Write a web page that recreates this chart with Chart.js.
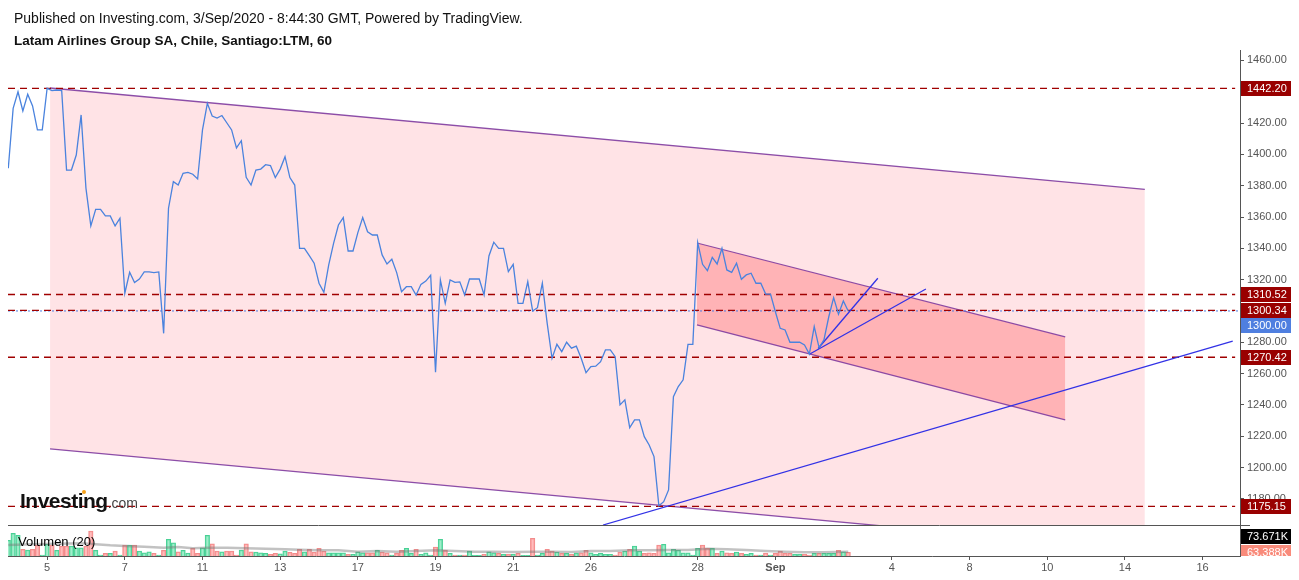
<!DOCTYPE html>
<html>
<head>
<meta charset="utf-8">
<script src="https://cdn.jsdelivr.net/npm/chart.js@4.4.0/dist/chart.umd.min.js"></script>
<style>
html, body { margin: 0; padding: 0; background: #fff; }
#wrap { position: relative; width: 1299px; height: 580px; overflow: hidden; font-family: "Liberation Sans", Arial, sans-serif; }
canvas { position: absolute; left: 0; }
#priceCanvas { top: 0; }
#volCanvas { top: 525px; }
.txt { position: absolute; white-space: nowrap; }
</style>
</head>
<body>
<div id="wrap">
  <canvas id="priceCanvas" width="1299" height="525"></canvas>
  <canvas id="volCanvas" width="1299" height="55"></canvas>
  <div class="txt" style="left:14px;top:11px;font-size:14px;line-height:14px;color:#111">Published on Investing.com, 3/Sep/2020 - 8:44:30 GMT, Powered by TradingView.</div>
  <div class="txt" style="left:14px;top:34px;font-size:13.5px;line-height:14px;font-weight:bold;color:#111">Latam Airlines Group SA, Chile, Santiago:LTM, 60</div>
  <div class="txt" style="left:20px;top:490px;line-height:21px;color:#111">
    <span style="font-size:21px;font-weight:bold;letter-spacing:-0.5px">Investing</span><span style="font-size:14px;color:#444">.com</span>
  </div>
  <div class="txt" style="left:82px;top:490px;width:4px;height:4px;border-radius:2px;background:#f7a21b"></div>
  <div class="txt" style="left:18px;top:535px;font-size:13px;line-height:13px;color:#000">Volumen (20)</div>
</div>
<script>
// hourly closes, one per bar
const closes = [
  1391.1, 1429.4, 1440.0, 1427.7, 1438.4, 1430.9, 1415.6, 1415.6, 1442.2, 1440.7,
  1441.1, 1440.7, 1390.0, 1390.0, 1399.6, 1425.2, 1378.3, 1354.3, 1364.9, 1364.9,
  1360.7, 1360.7, 1354.3, 1359.2, 1311.3, 1324.7, 1318.1, 1320.4, 1324.9, 1324.9,
  1324.5, 1324.9, 1285.7, 1365.6, 1382.6, 1380.4, 1387.9, 1388.5, 1387.3, 1384.3,
  1415.6, 1432.6, 1424.5, 1423.2, 1424.8, 1420.2, 1415.6, 1404.1, 1408.7, 1385.4,
  1380.4, 1390.0, 1390.6, 1393.4, 1392.9, 1385.2, 1390.6, 1398.5, 1385.2, 1380.4,
  1340.0, 1340.0, 1335.3, 1330.5, 1317.7, 1311.9, 1329.4, 1343.2, 1354.9, 1359.6,
  1338.3, 1338.3, 1350.0, 1359.6, 1350.6, 1348.5, 1348.5, 1335.8, 1330.0, 1333.0,
  1324.5, 1312.3, 1315.5, 1315.5, 1310.2, 1317.0, 1319.1, 1322.8, 1260.8, 1319.8,
  1304.9, 1319.8, 1318.3, 1318.6, 1310.2, 1320.4, 1320.4, 1320.4, 1310.2, 1335.1,
  1343.9, 1340.0, 1340.0, 1325.1, 1329.8, 1304.9, 1304.9, 1318.7, 1300.0, 1302.1,
  1317.7, 1292.1, 1269.8, 1278.7, 1274.0, 1280.0, 1276.2, 1277.5, 1269.8, 1260.6,
  1264.4, 1264.7, 1267.6, 1275.1, 1275.1, 1270.8, 1240.0, 1243.2, 1225.5, 1230.4,
  1230.4, 1219.7, 1214.4, 1207.0, 1175.6, 1178.2, 1185.7, 1245.3, 1251.7, 1256.0,
  1278.7, 1278.7, 1343.6, 1329.8, 1325.7, 1334.2, 1330.0, 1340.0, 1326.2, 1324.7,
  1330.5, 1320.2, 1323.0, 1324.1, 1317.7, 1317.7, 1310.8, 1310.8, 1299.5, 1288.9,
  1287.9, 1280.0, 1280.0, 1280.0, 1278.3, 1272.5, 1290.0, 1276.6, 1281.5, 1296.3,
  1308.5, 1297.9, 1306.4, 1300.0
];

// volume per bar, thousands
const volumes = [
  267, 386, 352, 114, 102, 114, 187, 17, 199, 187,
  97, 170, 170, 170, 141, 141, 170, 425, 97, 17,
  46, 46, 85, 17, 187, 187, 187, 85, 56, 73,
  46, 17, 97, 284, 226, 73, 97, 51, 131, 46,
  141, 352, 209, 85, 73, 85, 85, 17, 102, 209,
  73, 68, 56, 46, 29, 46, 39, 85, 63, 46,
  114, 73, 114, 68, 131, 85, 56, 56, 56, 56,
  29, 29, 73, 56, 56, 56, 97, 68, 56, 17,
  46, 97, 131, 46, 114, 29, 56, 17, 153, 284,
  97, 46, 17, 17, 17, 85, 12, 12, 29, 73,
  56, 46, 29, 29, 29, 46, 12, 12, 301, 17,
  46, 114, 85, 68, 46, 46, 29, 51, 56, 97,
  56, 29, 46, 29, 29, 17, 68, 85, 114, 170,
  85, 46, 56, 46, 187, 199, 56, 114, 102, 56,
  56, 17, 131, 187, 131, 131, 46, 85, 56, 46,
  68, 46, 29, 46, 17, 17, 51, 17, 46, 85,
  46, 46, 29, 29, 29, 17, 46, 46, 46, 46,
  46, 97, 73, 63.388
];

// volume 20-bar average, read at these bars
const maBars = [0, 5, 10, 15, 18, 21, 24, 28, 32, 35, 38, 41, 45, 49, 53, 57, 60, 64, 68, 72,
  76, 80, 84, 88, 92, 96, 100, 104, 108, 112, 116, 120, 124, 128, 132, 136, 140, 144, 148, 152,
  156, 160, 164, 168, 173];
const maValues = [187, 198, 210, 215, 199, 181, 170, 159, 142, 153, 130, 142, 142, 130, 125, 113, 108, 96, 96, 74,
  85, 74, 85, 96, 85, 74, 74, 68, 74, 74, 68, 85, 85, 96, 96, 102, 102, 125, 113, 102,
  85, 74, 62, 62, 73.671];

const levels = [1442.20, 1310.52, 1300.34, 1270.42, 1175.15];
const lastPrice = 1300.00;
const priceTicks = [1180, 1200, 1220, 1240, 1260, 1280, 1300, 1320, 1340, 1360, 1380, 1400, 1420, 1440, 1460];

const xTickBars = [8, 24, 40, 56, 72, 88, 104, 120, 142, 158, 182, 198, 214, 230, 246];
const xTickLabels = ['5', '7', '11', '13', '17', '19', '21', '26', '28', 'Sep', '4', '8', '10', '14', '16'];

// drawings: [bar, price]
const bigChannelTop = [[8.6, 1442.4], [234.1, 1377.7]];
const bigChannelBottom = [[8.6, 1211.9], [234.1, 1147.2]];
const smallChannelTop = [[141.85, 1343.4], [217.7, 1283.4]];
const smallChannelBottom = [[141.85, 1291.1], [217.7, 1230.4]];
const trendLines = [
  [[122.5, 1163.3], [252.2, 1280.8]],
  [[166.8, 1276.0], [179.1, 1320.9]],
  [[165.1, 1272.5], [189.0, 1314.0]]
];
const levelEndBar = 252.7;

const xMin = -0.06, xMax = 253.7;
const priceMin = 1163.3, priceMax = 1466.66;
const volMax = 527;

Chart.defaults.font.family = '"Liberation Sans", Arial, sans-serif';

const pts = arr => arr.map(p => ({x: p[0], y: p[1]}));
const AXIS = '#555';
const purple = 'rgba(128,60,160,0.9)';

const datasets = [
  {data: pts(bigChannelTop), borderColor: purple, borderWidth: 1.3, order: 20},
  {data: pts(bigChannelBottom), borderColor: purple, borderWidth: 1.3, order: 21,
    fill: '-1', backgroundColor: 'rgba(255,200,205,0.5)'},
  {data: pts(smallChannelTop), borderColor: purple, borderWidth: 1.2, order: 18},
  {data: pts(smallChannelBottom), borderColor: purple, borderWidth: 1.2, order: 19,
    fill: '-1', backgroundColor: 'rgba(255,120,125,0.45)'}
];
levels.forEach(v => datasets.push({
  data: [{x: xMin, y: v}, {x: levelEndBar, y: v}],
  borderColor: '#a00000', borderWidth: 1.3, borderDash: [7, 5], order: 10
}));
trendLines.forEach(l => datasets.push({
  data: pts(l), borderColor: '#3232e6', borderWidth: 1.3, order: 5
}));
// last price line sits under the dashed levels
datasets.push({
  data: [{x: xMin, y: lastPrice}, {x: xMax, y: lastPrice}],
  borderColor: '#4a7be0', borderWidth: 1, borderDash: [2, 2], order: 12
});
datasets.push({
  data: closes.map((c, i) => ({x: i, y: c})),
  borderColor: '#4a83de', borderWidth: 1.3, order: 1
});
datasets.forEach(d => { d.pointRadius = 0; d.tension = 0; d.clip = 0; if (!d.fill) d.fill = false; });

function drawTag(ctx, x, y, text, bg) {
  ctx.fillStyle = bg;
  ctx.fillRect(x, Math.round(y - 7.5), 50, 15);
  ctx.fillStyle = '#fff';
  ctx.font = '11px "Liberation Sans", Arial, sans-serif';
  ctx.textBaseline = 'middle';
  ctx.textAlign = 'left';
  ctx.fillText(text, x + 6, y + 0.5);
}

const priceTags = {
  id: 'priceTags',
  afterDraw(chart) {
    const ctx = chart.ctx, ys = chart.scales.y;
    const tags = levels.map(v => ({v, bg: '#990000'}));
    tags.push({v: lastPrice, bg: '#4f7fe0'});
    tags.forEach(t => t.y = ys.getPixelForValue(t.v));
    tags.sort((a, b) => a.y - b.y);
    for (let k = 1; k < tags.length; k++) {
      if (tags[k].y < tags[k - 1].y + 15.5) tags[k].y = tags[k - 1].y + 15.5;
    }
    ctx.save();
    tags.forEach(t => drawTag(ctx, ys.left + 1, t.y, t.v.toFixed(2), t.bg));
    ctx.restore();
  }
};

new Chart(document.getElementById('priceCanvas'), {
  type: 'line',
  data: {datasets},
  options: {
    responsive: false,
    animation: false,
    events: [],
    layout: {padding: {left: 8, top: 50, right: 0, bottom: 0}},
    plugins: {legend: {display: false}, tooltip: {enabled: false}},
    scales: {
      x: {type: 'linear', min: xMin, max: xMax, display: false},
      y: {
        position: 'right', min: priceMin, max: priceMax,
        afterFit: s => { s.width = 59; s.paddingTop = 0; s.paddingBottom = 0; },
        afterBuildTicks: s => { s.ticks = priceTicks.map(v => ({value: v})); },
        ticks: {callback: v => v.toFixed(2), color: AXIS, font: {size: 11}, padding: 3},
        grid: {drawOnChartArea: false, tickLength: 4, color: AXIS},
        border: {color: AXIS}
      }
    }
  },
  plugins: [priceTags]
});

const upColor = i => closes[i] >= closes[Math.max(i - 1, 0)];

const volTags = {
  id: 'volTags',
  afterDraw(chart) {
    const ctx = chart.ctx, ys = chart.scales.yv;
    ctx.save();
    ctx.strokeStyle = AXIS;
    ctx.lineWidth = 1;
    ctx.beginPath();
    ctx.moveTo(chart.chartArea.left, ys.top + 0.5);
    ctx.lineTo(ys.left + 10, ys.top + 0.5);
    ctx.stroke();
    const tags = [
      {v: volumes[volumes.length - 1], bg: '#f98b7b'},
      {v: maValues[maValues.length - 1], bg: '#000'}
    ].sort((a, b) => a.v - b.v);
    tags.forEach(t => t.y = ys.getPixelForValue(t.v));
    for (let k = 1; k < tags.length; k++) {
      if (tags[k].y > tags[k - 1].y - 15.5) tags[k].y = tags[k - 1].y - 15.5;
    }
    ctx.beginPath();
    ctx.rect(ys.left, ys.top, ys.width, ys.bottom - ys.top);
    ctx.clip();
    tags.forEach(t => drawTag(ctx, ys.left + 1, t.y, t.v.toFixed(3) + 'K', t.bg));
    ctx.restore();
  }
};

new Chart(document.getElementById('volCanvas'), {
  type: 'bar',
  data: {
    datasets: [
      {
        type: 'line', yAxisID: 'yv', order: 0,
        data: maBars.map((b, k) => ({x: b, y: maValues[k]})),
        borderColor: 'rgba(120,120,120,0.45)', borderWidth: 2.5, pointRadius: 0, tension: 0
      },
      {
        type: 'bar', yAxisID: 'yv', order: 1,
        data: volumes.map((v, i) => ({x: i, y: v})),
        backgroundColor: ctx => upColor(ctx.dataIndex) ? 'rgba(120,230,180,0.7)' : 'rgba(255,160,160,0.7)',
        borderColor: ctx => upColor(ctx.dataIndex) ? 'rgba(40,200,130,0.85)' : 'rgba(240,120,120,0.85)',
        borderWidth: 1, barThickness: 4.5
      }
    ]
  },
  options: {
    responsive: false,
    animation: false,
    events: [],
    layout: {padding: {left: 8, top: 0, right: 0, bottom: 0}},
    plugins: {legend: {display: false}, tooltip: {enabled: false}},
    scales: {
      x: {
        type: 'linear', min: xMin, max: xMax, offset: false,
        afterFit: s => { s.height = 24; },
        afterBuildTicks: s => { s.ticks = xTickBars.map(v => ({value: v})); },
        ticks: {
          callback: (v, i) => xTickLabels[i], color: AXIS, autoSkip: false, maxRotation: 0, padding: 1,
          font: c => ({size: 11, weight: xTickLabels[c.index] === 'Sep' ? 'bold' : 'normal'})
        },
        grid: {drawOnChartArea: false, tickLength: 4, color: AXIS, offset: false},
        border: {color: AXIS}
      },
      yv: {
        position: 'right', min: 0, max: volMax,
        afterFit: s => { s.width = 59; },
        ticks: {display: false},
        grid: {display: false},
        border: {color: AXIS}
      }
    }
  },
  plugins: [volTags]
});
</script>
</body>
</html>
